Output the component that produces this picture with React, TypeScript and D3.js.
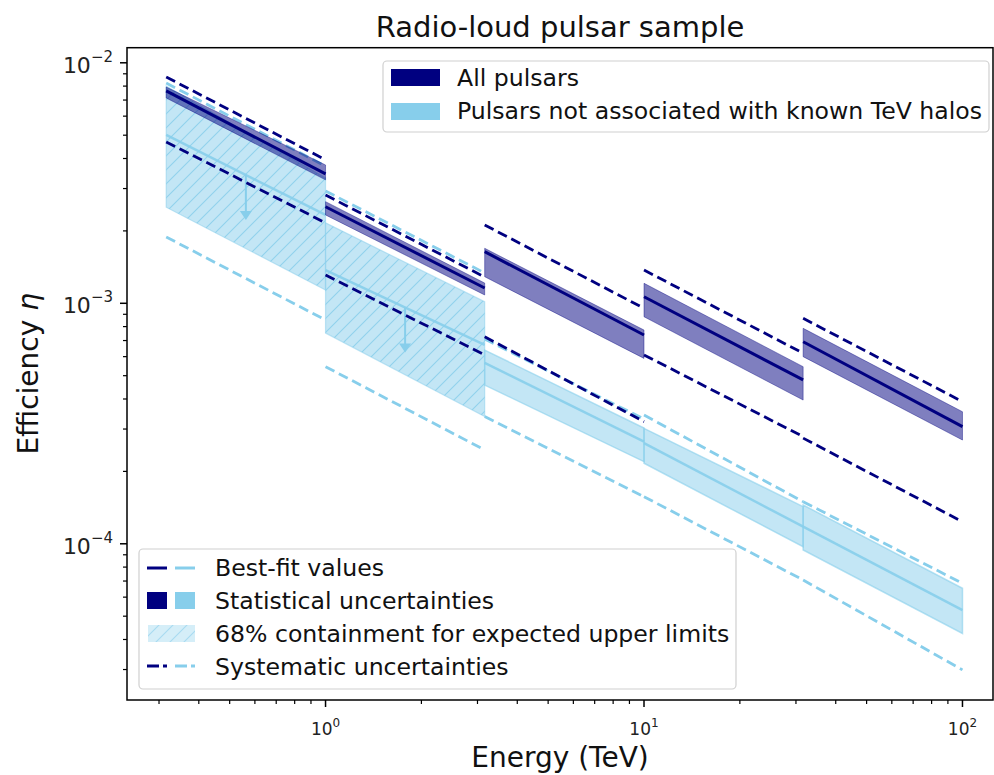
import React from 'react';
import * as d3 from 'd3';

// Energy bin edges (TeV)
const binEdges = [0.316, 1, 3.16, 10, 31.6, 100];

// All pulsars: [value at bin start, value at bin end]
const allBest = [[7.64e-3, 3.45e-3], [2.52e-3, 1.158e-3], [1.639e-3, 7.38e-4], [1.065e-3, 4.8e-4], [6.92e-4, 3.07e-4]];
const allStatHi = [[7.93e-3, 3.76e-3], [2.646e-3, 1.214e-3], [1.693e-3, 7.74e-4], [1.211e-3, 5.45e-4], [7.87e-4, 3.54e-4]];
const allStatLo = [[7.14e-3, 3.26e-3], [2.33e-3, 1.083e-3], [1.29e-3, 5.9e-4], [8.79e-4, 3.96e-4], [6.0e-4, 2.7e-4]];
const allSysHi = [[8.73e-3, 3.95e-3], [2.82e-3, 1.286e-3], [2.117e-3, 9.53e-4], [1.375e-3, 6.2e-4], [8.66e-4, 3.9e-4]];
const allSysLo = [[4.69e-3, 2.16e-3], [1.311e-3, 6.1e-4], [7.26e-4, 3.22e-4], [6.1e-4, 2.79e-4], [2.75e-4, 1.235e-4]];

// Pulsars not associated with known TeV halos
const haloFreeBest = [[5.01e-3, 2.33e-3], [1.375e-3, 6.71e-4], [5.65e-4, 2.66e-4], [2.62e-4, 1.178e-4], [1.178e-4, 5.3e-5]];
const haloFreeIsUL = [true, true, false, false, false];
const haloFreeStatHi = [null, null, [6.39e-4, 3.03e-4], [3.02e-4, 1.427e-4], [1.45e-4, 6.53e-5]];
const haloFreeStatLo = [null, null, [4.57e-4, 2.195e-4], [2.162e-4, 9.72e-5], [9.42e-5, 4.24e-5]];
const expULHi = [[8.0e-3, 3.32e-3], [2.16e-3, 1.015e-3], null, null, null];
const expULLo = [[2.51e-3, 1.136e-3], [7.52e-4, 3.38e-4], null, null, null];
const haloFreeSysHi = [[8.24e-3, 3.72e-3], [2.93e-3, 1.337e-3], [7.1e-4, 3.3e-4], [3.43e-4, 1.496e-4], [1.496e-4, 6.85e-5]];
const haloFreeSysLo = [[1.887e-3, 8.52e-4], [5.45e-4, 2.455e-4], [3.38e-4, 1.57e-4], [1.57e-4, 7.07e-5], [7.07e-5, 2.99e-5]];
const arrowFactor = 0.65;

const xMajorTicks = [1, 10, 100];
const xMajorExp = ['0', '1', '2'];
const yMajorTicks = [1e-2, 1e-3, 1e-4];
const yMajorExp = ['\u22122', '\u22123', '\u22124'];

const legendTop = ['All pulsars', 'Pulsars not associated with known TeV halos'];
const legendBottom = ['Best-fit values', 'Statistical uncertainties', '68% containment for expected upper limits', 'Systematic uncertainties'];

const NAVY = '#000080';
const SKY = '#87ceeb';
const FONT = "'DejaVu Sans', sans-serif";

const W = 994, H = 775;
const L = 127, R = 993, T = 47.7, B = 700;

export default function App() {
  const x = d3.scaleLog().domain([0.238, 124.7]).range([L, R]);
  const y = d3.scaleLog().domain([2.241e-5, 0.011555]).range([B, T]);

  const seg = (i: number, p: number[]) =>
    `M${x(binEdges[i])},${y(p[0])}L${x(binEdges[i + 1])},${y(p[1])}`;
  const band = (i: number, hi: number[], lo: number[]) =>
    `M${x(binEdges[i])},${y(hi[0])}L${x(binEdges[i + 1])},${y(hi[1])}L${x(binEdges[i + 1])},${y(lo[1])}L${x(binEdges[i])},${y(lo[0])}Z`;

  const xMinor: number[] = [];
  for (let d = -1; d <= 2; d++) for (let k = 2; k <= 9; k++) {
    const v = k * Math.pow(10, d);
    if (v > 0.238 && v < 124.7) xMinor.push(v);
  }
  const yMinor: number[] = [];
  for (let d = -5; d <= -2; d++) for (let k = 2; k <= 9; k++) {
    const v = k * Math.pow(10, d);
    if (v > 2.241e-5 && v < 0.011555) yMinor.push(v);
  }

  const bins = d3.range(binEdges.length - 1);

  return (
    <svg width={W} height={H} style={{ position: 'absolute', left: 0, top: 0, background: '#fff' }} fontFamily={FONT}>
      <defs>
        <clipPath id="ax"><rect x={L} y={T} width={R - L} height={B - T} /></clipPath>
        <pattern id="hatch" patternUnits="userSpaceOnUse" width="14" height="14">
          <path d="M-1,1 L1,-1 M0,14 L14,0 M13,15 L15,13" stroke={SKY} strokeWidth="1.1" opacity="0.85" />
        </pattern>
      </defs>

      <g clipPath="url(#ax)">
        {/* expected upper limit containment (hatched) */}
        {bins.map(i => expULHi[i] && (
          <g key={'ul' + i}>
            <path d={band(i, expULHi[i] as number[], expULLo[i] as number[])} fill={SKY} fillOpacity={0.5} stroke={SKY} strokeOpacity={0.5} strokeWidth={1.2} />
            <path d={band(i, expULHi[i] as number[], expULLo[i] as number[])} fill="url(#hatch)" />
          </g>
        ))}
        {/* light statistical bands */}
        {bins.map(i => haloFreeStatHi[i] && (
          <path key={'ls' + i} d={band(i, haloFreeStatHi[i] as number[], haloFreeStatLo[i] as number[])} fill={SKY} fillOpacity={0.5} stroke={SKY} strokeOpacity={0.6} strokeWidth={1.5} />
        ))}
        {/* light best fit / upper limits */}
        {bins.map(i => (
          <path key={'lb' + i} d={seg(i, haloFreeBest[i])} stroke={SKY} strokeWidth={2.5} fill="none" strokeOpacity={0.9} />
        ))}
        {bins.filter(i => haloFreeIsUL[i]).map(i => {
          const ec = Math.sqrt(binEdges[i] * binEdges[i + 1]);
          const t = Math.log(ec / binEdges[i]) / Math.log(binEdges[i + 1] / binEdges[i]);
          const v = Math.exp(Math.log(haloFreeBest[i][0]) + t * (Math.log(haloFreeBest[i][1]) - Math.log(haloFreeBest[i][0])));
          const xa = x(ec), y0 = y(v), y1 = y(v * arrowFactor);
          return (
            <g key={'ar' + i}>
              <line x1={xa} x2={xa} y1={y0} y2={y1 - 8} stroke={SKY} strokeWidth={2} />
              <path d={`M${xa - 6},${y1 - 9}L${xa + 6},${y1 - 9}L${xa},${y1}Z`} fill={SKY} />
            </g>
          );
        })}
        {/* light systematics */}
        {bins.map(i => (
          <g key={'lsy' + i}>
            <path d={seg(i, haloFreeSysHi[i])} stroke={SKY} strokeWidth={2.8} fill="none" strokeDasharray="10,5" />
            <path d={seg(i, haloFreeSysLo[i])} stroke={SKY} strokeWidth={2.8} fill="none" strokeDasharray="10,5" />
          </g>
        ))}
        {/* dark statistical bands */}
        {bins.map(i => (
          <path key={'ds' + i} d={band(i, allStatHi[i], allStatLo[i])} fill={NAVY} fillOpacity={0.5} stroke={NAVY} strokeOpacity={0.4} strokeWidth={1} />
        ))}
        {bins.map(i => (
          <path key={'db' + i} d={seg(i, allBest[i])} stroke={NAVY} strokeWidth={3} fill="none" />
        ))}
        {bins.map(i => (
          <g key={'dsy' + i}>
            <path d={seg(i, allSysHi[i])} stroke={NAVY} strokeWidth={2.8} fill="none" strokeDasharray="10,5" />
            <path d={seg(i, allSysLo[i])} stroke={NAVY} strokeWidth={2.8} fill="none" strokeDasharray="10,5" />
          </g>
        ))}
      </g>

      {/* axes frame */}
      <rect x={L} y={T} width={R - L} height={B - T} fill="none" stroke="#000" strokeWidth={1.5} />

      {/* x ticks */}
      {xMinor.map(v => <line key={'xm' + v} x1={x(v)} x2={x(v)} y1={B} y2={B + 4} stroke="#000" strokeWidth={1.2} />)}
      {xMajorTicks.map((v, i) => (
        <g key={'xM' + v}>
          <line x1={x(v)} x2={x(v)} y1={B} y2={B + 7} stroke="#000" strokeWidth={1.5} />
          <text x={x(v)} y={735} textAnchor="middle" fontSize={17} fill="#222">10<tspan dy={-8} fontSize={12}>{xMajorExp[i]}</tspan></text>
        </g>
      ))}
      {/* y ticks */}
      {yMinor.map(v => <line key={'ym' + v} x1={L} x2={L - 4} y1={y(v)} y2={y(v)} stroke="#000" strokeWidth={1.2} />)}
      {yMajorTicks.map((v, i) => (
        <g key={'yM' + v}>
          <line x1={L} x2={L - 7} y1={y(v)} y2={y(v)} stroke="#000" strokeWidth={1.5} />
          <text x={113} y={y(v) + 10} textAnchor="end" fontSize={22} fill="#222">10<tspan dy={-11} fontSize={15}>{yMajorExp[i]}</tspan></text>
        </g>
      ))}

      {/* labels */}
      <text x={(L + R) / 2} y={37} textAnchor="middle" fontSize={29} fill="#111">Radio-loud pulsar sample</text>
      <text x={(L + R) / 2} y={767} textAnchor="middle" fontSize={28} fill="#111">Energy (TeV)</text>
      <text transform={`translate(38,${(T + B) / 2}) rotate(-90)`} textAnchor="middle" fontSize={28} fill="#111">Efficiency <tspan fontStyle="italic">η</tspan></text>

      {/* top legend */}
      <g>
        <rect x={383} y={61} width={606} height={71} rx={4} fill="#fff" fillOpacity={0.8} stroke="#d0d0d0" strokeWidth={1.2} />
        <rect x={391} y={69} width={49} height={17} fill={NAVY} />
        <rect x={391} y={103} width={49} height={17} fill={SKY} />
        <text x={457} y={86} fontSize={23.6} fill="#111">{legendTop[0]}</text>
        <text x={457} y={119} fontSize={23.6} fill="#111">{legendTop[1]}</text>
      </g>

      {/* bottom legend */}
      <g>
        <rect x={139} y={549} width={597} height={140} rx={4} fill="#fff" fillOpacity={0.8} stroke="#d0d0d0" strokeWidth={1.2} />
        <line x1={147} x2={167} y1={568} y2={568} stroke={NAVY} strokeWidth={3} />
        <line x1={175} x2={195} y1={568} y2={568} stroke={SKY} strokeWidth={3} />
        <rect x={147} y={592} width={20} height={17} fill={NAVY} />
        <rect x={175} y={592} width={20} height={17} fill={SKY} />
        <rect x={148} y={625} width={47} height={17} fill={SKY} fillOpacity={0.35} />
        <rect x={148} y={625} width={47} height={17} fill="url(#hatch)" opacity={0.7} />
        <line x1={147} x2={167} y1={666} y2={666} stroke={NAVY} strokeWidth={3} strokeDasharray="12,4" />
        <line x1={175} x2={195} y1={666} y2={666} stroke={SKY} strokeWidth={3} strokeDasharray="12,4" />
        {legendBottom.map((t, i) => (
          <text key={t} x={215} y={576 + i * 33} fontSize={23.6} fill="#111">{t}</text>
        ))}
      </g>
    </svg>
  );
}
